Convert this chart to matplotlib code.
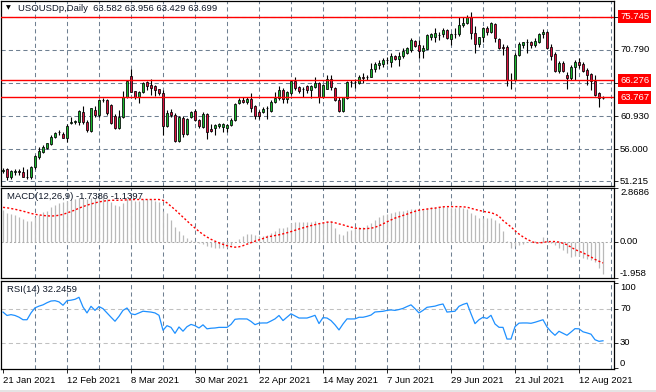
import matplotlib
matplotlib.use("Agg")
import matplotlib.pyplot as plt
import matplotlib.transforms as mtransforms
from matplotlib.patches import Rectangle

plt.rcParams['font.family'] = ['Liberation Sans', 'DejaVu Sans']

#------- chart data

symbol_title = "USOUSDp,Daily  63.582 63.956 63.429 63.699"
macd_title = "MACD(12,26,9) -1.7386 -1.1397"
rsi_title = "RSI(14) 32.2459"

date_labels = ["21 Jan 2021", "12 Feb 2021", "8 Mar 2021", "30 Mar 2021", "22 Apr 2021",
               "14 May 2021", "7 Jun 2021", "29 Jun 2021", "21 Jul 2021", "12 Aug 2021"]

opens = [52.80, 53.01, 51.87, 52.60, 52.70, 52.56, 51.90, 51.87, 53.30, 54.90,
         55.60, 56.20, 56.85, 57.84, 58.55, 58.24, 57.75, 59.90, 60.10, 60.10,
         61.60, 60.10, 58.70, 61.90, 61.10, 63.35, 63.30, 62.57, 60.93, 59.10,
         60.80, 63.80, 66.90, 64.66, 63.80, 64.56, 65.96, 65.56, 65.41, 64.96,
         64.40, 59.43, 61.58, 61.08, 57.24, 60.73, 58.34, 60.78, 61.73, 60.33,
         59.33, 61.23, 58.99, 59.20, 59.40, 59.35, 59.18, 59.68, 60.43, 62.82,
         63.32, 62.97, 63.47, 62.42, 61.50, 61.58, 62.10, 61.73, 63.02, 63.57,
         64.81, 63.42, 64.32, 66.16, 65.21, 64.96, 65.41, 64.81, 65.31, 65.81,
         63.72, 65.01, 66.41, 65.16, 63.32, 61.68, 63.57, 66.00, 66.05, 65.81,
         66.76, 66.70, 66.76, 67.90, 68.55, 68.70, 69.30, 69.04, 69.90, 69.45,
         69.90, 70.39, 70.79, 72.13, 71.54, 70.69, 70.94, 72.78, 72.68, 73.05,
         73.13, 73.78, 72.43, 73.15, 73.13, 74.52, 74.87, 75.67, 73.28, 71.69,
         72.68, 74.03, 73.53, 74.62, 72.43, 71.19, 71.19, 66.31, 66.31, 70.04,
         71.54, 72.00, 72.03, 71.54, 72.03, 73.13, 73.53, 71.19, 70.14, 67.70,
         68.80, 67.06, 66.56, 68.30, 69.04, 68.65, 67.80, 67.20, 66.21, 64.32,
         63.582]
highs = [53.15, 53.27, 52.86, 53.00, 53.10, 53.30, 53.10, 53.46, 55.10, 56.30,
         56.60, 57.00, 58.10, 58.50, 58.80, 58.50, 59.70, 60.80, 60.40, 61.85,
         62.40, 60.35, 62.20, 62.50, 63.50, 63.60, 63.50, 62.80, 61.20, 61.80,
         64.70, 66.30, 67.95, 64.70, 64.70, 66.05, 66.15, 66.45, 65.56, 65.05,
         64.81, 61.83, 61.93, 61.33, 60.90, 60.93, 60.73, 61.73, 62.07, 60.58,
         61.58, 61.43, 59.83, 59.83, 59.93, 59.93, 59.83, 60.73, 62.83, 63.64,
         63.82, 63.72, 64.32, 62.57, 61.83, 62.30, 62.50, 63.27, 64.56, 65.41,
         65.06, 64.71, 66.31, 66.71, 65.41, 65.31, 65.56, 65.56, 66.71, 66.06,
         65.71, 67.06, 67.06, 65.31, 63.72, 63.82, 66.16, 66.31, 66.41, 67.06,
         67.30, 67.06, 68.80, 68.95, 69.30, 69.64, 69.70, 70.30, 70.04, 70.54,
         71.04, 71.24, 72.53, 72.28, 72.28, 71.54, 73.13, 73.28, 74.03, 73.43,
         74.03, 73.93, 73.28, 74.03, 75.67, 75.67, 76.02, 76.51, 74.42, 72.78,
         74.27, 74.42, 75.03, 74.87, 72.63, 71.64, 71.54, 67.31, 70.29, 71.94,
         72.03, 72.38, 72.13, 72.53, 73.28, 73.93, 73.63, 71.64, 70.54, 69.15,
         69.15, 67.55, 68.55, 69.30, 69.54, 68.95, 68.05, 67.40, 67.06, 64.47,
         63.956]
lows = [52.45, 51.37, 51.62, 52.10, 52.20, 51.85, 51.50, 51.50, 53.10, 54.60,
        55.50, 56.10, 56.70, 57.70, 58.10, 57.70, 57.10, 59.80, 59.70, 59.60,
        59.80, 58.50, 58.60, 60.80, 60.80, 63.00, 61.10, 59.80, 59.00, 59.00,
        60.70, 63.70, 64.50, 63.55, 62.90, 64.45, 64.80, 64.07, 63.90, 64.07,
        58.10, 59.33, 60.80, 57.10, 57.10, 57.80, 58.09, 60.60, 60.18, 59.10,
        59.18, 57.49, 58.59, 58.09, 59.10, 58.55, 58.55, 59.43, 60.18, 62.67,
        62.82, 62.72, 61.58, 60.58, 60.58, 61.38, 60.58, 61.58, 62.87, 63.32,
        62.87, 62.87, 64.07, 64.81, 64.32, 63.72, 64.42, 63.57, 65.06, 62.92,
        63.62, 64.91, 64.81, 63.22, 61.58, 61.58, 63.47, 65.31, 65.06, 65.71,
        65.90, 66.31, 66.70, 67.50, 67.95, 68.30, 68.65, 68.30, 69.30, 68.40,
        69.54, 70.25, 70.54, 71.29, 69.54, 69.54, 70.90, 72.28, 72.03, 72.28,
        72.78, 72.38, 71.54, 72.53, 72.93, 74.27, 74.62, 72.38, 70.29, 71.29,
        72.03, 73.03, 73.28, 72.03, 70.89, 70.04, 65.41, 64.91, 66.16, 69.94,
        71.04, 70.29, 71.04, 71.29, 71.89, 72.53, 70.89, 69.30, 67.55, 67.31,
        67.55, 64.91, 66.31, 66.31, 68.05, 67.55, 65.56, 64.81, 63.97, 62.32,
        63.429]
closes = [52.90, 51.82, 52.71, 52.70, 52.60, 51.87, 51.85, 53.42, 54.95, 55.75,
          56.30, 56.95, 57.85, 58.35, 58.60, 57.75, 59.45, 60.00, 60.15, 61.70,
          60.10, 58.84, 62.10, 61.10, 63.30, 63.30, 61.33, 59.93, 59.18, 60.80,
          63.80, 66.20, 64.56, 63.80, 64.56, 65.90, 65.41, 65.06, 64.90, 64.40,
          59.43, 61.43, 61.08, 57.24, 60.80, 58.24, 60.58, 61.50, 60.33, 59.43,
          61.23, 58.60, 58.69, 59.58, 59.73, 59.70, 59.55, 60.43, 62.67, 63.32,
          62.97, 63.47, 62.22, 60.98, 61.00, 62.07, 62.15, 63.07, 63.67, 64.81,
          63.42, 64.56, 66.16, 65.16, 64.66, 64.91, 64.81, 65.41, 65.81, 63.72,
          65.56, 66.41, 65.31, 63.32, 61.68, 63.72, 66.01, 66.05, 66.00, 66.71,
          66.60, 66.80, 67.90, 68.65, 68.90, 69.30, 69.35, 69.90, 69.45, 69.90,
          70.64, 71.04, 72.28, 71.44, 70.69, 71.14, 73.03, 73.13, 73.28, 73.00,
          73.78, 72.53, 73.18, 73.20, 74.52, 74.87, 75.67, 73.28, 71.64, 72.68,
          74.03, 73.53, 74.78, 72.53, 71.04, 71.04, 66.31, 66.26, 70.04, 71.64,
          71.94, 72.05, 71.54, 72.18, 73.18, 73.53, 71.04, 69.94, 67.65, 68.80,
          67.65, 66.56, 68.20, 69.04, 68.55, 67.70, 67.06, 66.21, 64.07, 63.67,
          63.699]

macd_main = [1.70, 1.52, 1.47, 1.39, 1.31, 1.22, 1.11, 1.11, 1.31, 1.43,
             1.58, 1.65, 1.82, 1.97, 2.06, 2.11, 2.14, 2.20, 2.24, 2.33,
             2.33, 2.29, 2.33, 2.33, 2.38, 2.38, 2.24, 2.11, 1.97, 1.88,
             2.06, 2.24, 2.24, 2.18, 2.14, 2.24, 2.24, 2.24, 2.18, 2.11,
             1.65, 1.52, 1.16, 0.75, 0.55, 0.35, 0.20, 0.10, 0.02, -0.09,
             -0.14, -0.23, -0.30, -0.32, -0.36, -0.36, -0.30, -0.18, 0.00, 0.12,
             0.27, 0.39, 0.39, 0.36, 0.27, 0.27, 0.36, 0.45, 0.54, 0.71,
             0.71, 0.77, 0.98, 1.02, 1.02, 1.02, 1.02, 1.02, 1.07, 0.98,
             0.98, 1.07, 1.07, 0.71, 0.39, 0.36, 0.54, 0.63, 0.71, 0.80,
             0.80, 0.89, 0.98, 1.16, 1.29, 1.39, 1.47, 1.52, 1.58, 1.61,
             1.65, 1.70, 1.76, 1.76, 1.70, 1.70, 1.79, 1.83, 1.83, 1.83,
             1.88, 1.85, 1.79, 1.79, 1.83, 1.79, 1.76, 1.52, 1.39, 1.25,
             1.25, 1.25, 1.25, 1.16, 0.98, 0.57, 0.05, -0.32, -0.23, -0.18,
             -0.14, -0.05, -0.05, 0.05, 0.00, 0.25, 0.00, -0.09, -0.18, -0.32,
             -0.45, -0.63, -0.80, -0.75, -0.75, -0.86, -0.93, -0.98, -1.07, -1.40,
             -1.7386]
macd_signal = [1.82, 1.80, 1.76, 1.72, 1.67, 1.62, 1.56, 1.50, 1.45, 1.42,
               1.39, 1.37, 1.36, 1.37, 1.40, 1.45, 1.52, 1.60, 1.68, 1.78,
               1.86, 1.94, 2.00, 2.06, 2.11, 2.15, 2.18, 2.20, 2.20, 2.20,
               2.21, 2.22, 2.23, 2.24, 2.24, 2.24, 2.24, 2.24, 2.24, 2.24,
               2.20, 2.06, 1.88, 1.70, 1.50, 1.30, 1.10, 0.90, 0.72, 0.54,
               0.38, 0.24, 0.12, 0.02, -0.07, -0.15, -0.22, -0.27, -0.30, -0.28,
               -0.22, -0.14, -0.06, 0.02, 0.09, 0.16, 0.24, 0.28, 0.32, 0.36,
               0.41, 0.47, 0.53, 0.60, 0.67, 0.73, 0.79, 0.85, 0.90, 0.95,
               0.99, 1.03, 1.04, 1.00, 0.94, 0.89, 0.82, 0.77, 0.72, 0.69,
               0.68, 0.69, 0.71, 0.76, 0.84, 0.94, 1.05, 1.15, 1.25, 1.32,
               1.39, 1.46, 1.54, 1.61, 1.67, 1.70, 1.73, 1.76, 1.78, 1.82,
               1.85, 1.86, 1.86, 1.86, 1.86, 1.85, 1.83, 1.77, 1.71, 1.66,
               1.61, 1.57, 1.54, 1.46, 1.35, 1.12, 0.95, 0.78, 0.58, 0.40,
               0.25, 0.12, 0.02, -0.07, -0.07, -0.05, -0.01, 0.00, 0.00, -0.03,
               -0.09, -0.17, -0.30, -0.42, -0.52, -0.60, -0.71, -0.82, -0.95, -1.05,
               -1.1397]

rsi = [66.0, 62.0, 63.0, 62.0, 60.0, 57.0, 57.0, 65.0, 71.0, 73.0,
       74.5, 77.0, 79.0, 79.4, 78.0, 74.0, 79.4, 80.0, 81.0, 83.4,
       72.0, 65.0, 72.8, 68.0, 72.5, 70.0, 65.0, 60.0, 55.2, 61.0,
       68.0, 70.8, 64.0, 63.0, 65.0, 67.0, 66.5, 66.0, 65.0, 62.2,
       44.6, 50.0, 48.0, 41.0, 48.5, 43.5, 48.8, 51.5, 50.0, 47.3,
       51.0, 46.3, 47.0, 47.3, 48.0, 48.0, 48.0, 51.5, 57.5, 58.0,
       58.0, 57.9, 55.0, 51.2, 53.0, 53.2, 53.2, 55.5, 58.0, 62.0,
       56.0, 60.0, 64.0, 61.5, 59.0, 59.0, 59.0, 60.5, 62.2, 52.5,
       59.5, 59.0, 56.0, 51.0, 45.0, 52.0, 58.0, 57.9, 58.0, 59.9,
       59.9, 61.0, 62.5, 66.1, 66.5, 66.9, 68.0, 68.5, 68.0, 69.0,
       70.3, 72.5, 74.5, 70.0, 65.0, 68.0, 71.6, 72.3, 73.0, 74.5,
       75.5, 66.0, 66.5, 67.0, 72.8, 75.0, 76.5, 64.0, 52.4, 57.0,
       59.9, 58.5, 62.2, 52.0, 48.1, 48.0, 34.3, 34.3, 48.8, 53.0,
       53.2, 53.2, 52.8, 54.0, 55.5, 57.0, 48.5, 43.0, 38.7, 43.4,
       41.0, 38.7, 42.5, 46.5, 46.3, 42.8, 41.5, 40.0, 33.5, 31.6,
       32.2459]

price_levels = [75.745, 66.276, 63.767]
price_ticks = [75.72, 70.79, 65.86, 60.93, 56.00, 51.215]
macd_range = [-1.958, 2.8686]
rsi_levels = [70, 30]

#------- figure and panels

fig = plt.figure(figsize=(6.56, 3.92), dpi=100)
fig.patch.set_facecolor('white')

W, H = 656.0, 392.0
left, width = 1 / W, 613 / W
ax_main = fig.add_axes([left, 1 - 185.5 / H, width, 184.5 / H])
ax_macd = fig.add_axes([left, 1 - 278.3 / H, width, 90.6 / H])
ax_rsi = fig.add_axes([left, 1 - 368.7 / H, width, 87.4 / H])

n = len(closes)
xs = list(range(n))
grid_col = '#6f8092'
grid_ls = (0, (4, 3))
fs = 6.8

for ax in (ax_main, ax_macd, ax_rsi):
    ax.set_xlim(-0.5, 152.75)
    for s in ax.spines.values():
        s.set_color('black')
        s.set_linewidth(0.9)
    for gx in range(8, 153, 8):
        ax.axvline(gx, color=grid_col, lw=0.75, ls=grid_ls, zorder=0)
    ax.tick_params(axis='x', bottom=False, labelbottom=False)
    ax.tick_params(axis='y', left=False, labelleft=False, right=True,
                   direction='out', length=3, width=0.6, labelright=False)


def side_label(ax, y, s, va='center', box=False):
    tr = mtransforms.blended_transform_factory(ax.transAxes, ax.transData)
    if box:
        ax.text(1.0098, y, s, transform=tr, fontsize=fs, color='white', va=va, ha='left',
                clip_on=False, zorder=10,
                bbox=dict(boxstyle='square,pad=0.2', fc='#ff0000', ec='none'))
    else:
        ax.text(1.0098, y, s, transform=tr, fontsize=fs, color='black', va=va, ha='left',
                clip_on=False, zorder=5)


#------- price panel with candles

ax_main.set_ylim(50.6, 78.09)
ax_main.set_yticks(price_ticks)
for t in price_ticks:
    ax_main.axhline(t, color=grid_col, lw=0.75, ls=grid_ls, zorder=0)
    side_label(ax_main, t, "%.3f" % t)

bull, bear = '#19b82e', '#d8123e'
ax_main.vlines(xs, lows, highs, color='black', lw=0.8, zorder=2)
body_bottom = [min(o, c) for o, c in zip(opens, closes)]
body_height = [abs(c - o) for o, c in zip(opens, closes)]
body_col = [bull if c >= o else bear for o, c in zip(opens, closes)]
ax_main.bar(xs, body_height, bottom=body_bottom, width=0.62, color=body_col,
            edgecolor='black', linewidth=0.55, zorder=3)

for lv in price_levels:
    ax_main.axhline(lv, color='#ff0000', lw=1.0, zorder=4)
    side_label(ax_main, lv, "%.3f" % lv, box=True)

ax_main.text(0.008, 0.965, u"\u25bc", transform=ax_main.transAxes, fontsize=4.5,
             family='DejaVu Sans', va='center', ha='left', color='black')
ax_main.text(17 / 613, 0.958, symbol_title, transform=ax_main.transAxes, fontsize=fs,
             va='center', ha='left', color='#101828')

#------- MACD panel

ax_macd.set_ylim(macd_range[0], macd_range[1])
ax_macd.set_yticks([macd_range[1], 0, macd_range[0]])
ax_macd.axhline(0, color='#a8a8a8', lw=0.75, ls=(0, (2, 2)), zorder=0)
ax_macd.vlines(xs, 0, macd_main, color='#b9b9b9', lw=0.9, zorder=2)
ax_macd.plot(xs, macd_signal, color='#ff0000', lw=1.0, ls=(0, (1.5, 1.5)), zorder=3)
side_label(ax_macd, macd_range[1], "2.8686", va='top')
side_label(ax_macd, 0, "0.00")
side_label(ax_macd, macd_range[0], "-1.958", va='bottom')
ax_macd.text(6 / 613, 0.905, macd_title, transform=ax_macd.transAxes, fontsize=fs,
             va='center', ha='left', color='#101828')

#------- RSI panel

ax_rsi.set_ylim(-0.6, 102.2)
ax_rsi.set_yticks([100, 70, 30, 0])
for lv in rsi_levels:
    ax_rsi.axhline(lv, color='#c0c0c0', lw=0.75, ls=grid_ls, zorder=0)
ax_rsi.plot(xs, rsi, color='#1e90ff', lw=0.9, zorder=3)
side_label(ax_rsi, 100, "100", va='top')
side_label(ax_rsi, 70, "70")
side_label(ax_rsi, 30, "30")
side_label(ax_rsi, 0, "0", va='bottom')
ax_rsi.text(6 / 613, 0.905, rsi_title, transform=ax_rsi.transAxes, fontsize=fs,
            va='center', ha='left', color='#101828')

ax_rsi.set_xticks(list(range(0, 16 * len(date_labels), 16)))
ax_rsi.set_xticklabels(date_labels, fontsize=fs, ha='left')
ax_rsi.tick_params(axis='x', bottom=True, labelbottom=True, direction='out',
                   length=3, width=0.6, pad=2)

fig.patches.append(Rectangle((0, 0), 1, 2.5 / H, transform=fig.transFigure,
                             facecolor='#e4e4e4', edgecolor='none'))

plt.savefig('out.png', dpi=100)
